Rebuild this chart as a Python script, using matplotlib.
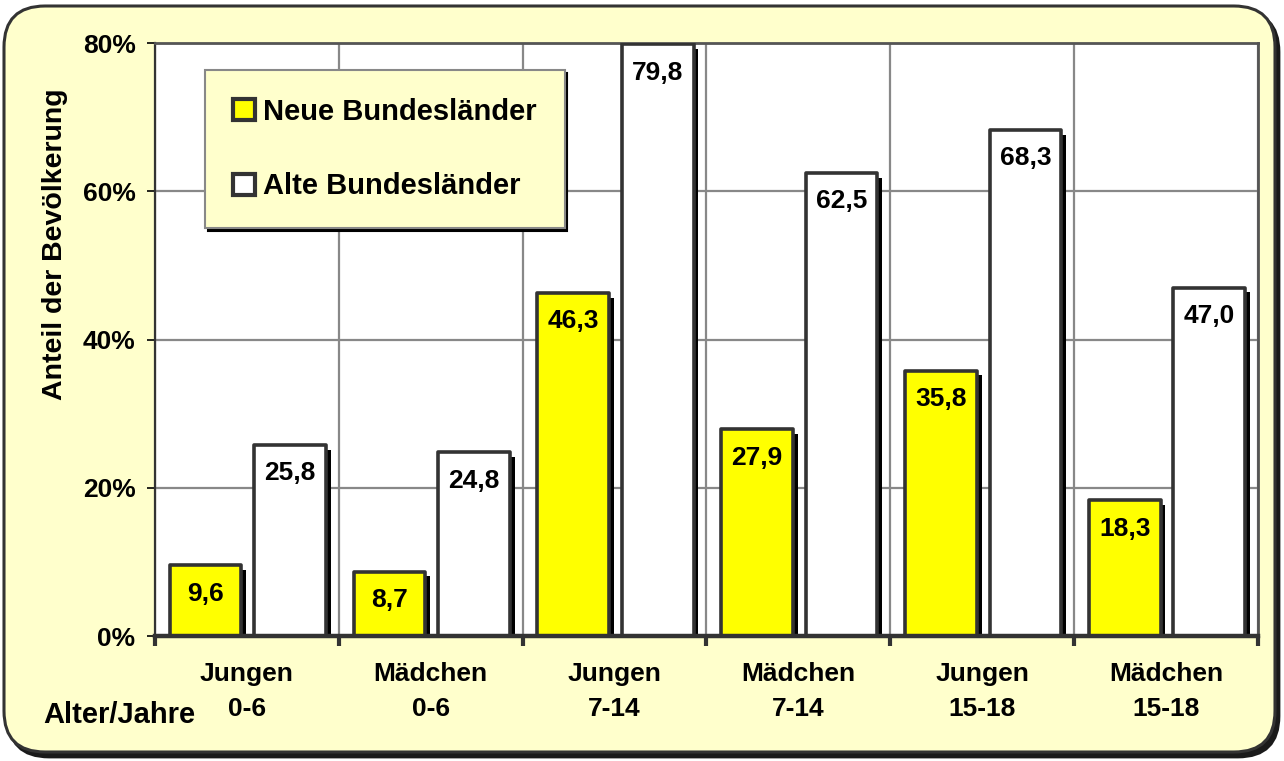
import matplotlib
matplotlib.use("Agg")
import matplotlib.pyplot as plt
import matplotlib.patheffects as pe
from matplotlib.patches import FancyBboxPatch, Patch
import numpy as np

# Daten
kategorien = ["Jungen\n0-6", "Mädchen\n0-6", "Jungen\n7-14",
              "Mädchen\n7-14", "Jungen\n15-18", "Mädchen\n15-18"]
neue_laender = [9.6, 8.7, 46.3, 27.9, 35.8, 18.3]
alte_laender = [25.8, 24.8, 79.8, 62.5, 68.3, 47.0]
y_ticks = [0, 20, 40, 60, 80]

plt.rcParams["font.family"] = ["Liberation Sans", "DejaVu Sans"]
plt.rcParams["font.weight"] = "bold"

W, H = 1284, 761
fig = plt.figure(figsize=(W / 100, H / 100), dpi=100)
fig.patch.set_facecolor("white")

# Rahmen mit Schatten
def px(x, y):
    return x / W, 1 - y / H

x0, y1 = px(4, 6)
x1, y0 = px(1275, 752)
shadow = FancyBboxPatch((x0 + 4 / W, y0 - 5 / H), x1 - x0, y1 - y0,
                        boxstyle="round,pad=0,rounding_size=0.032",
                        transform=fig.transFigure, facecolor="#1a1a1a",
                        edgecolor="#1a1a1a", lw=2, mutation_aspect=W / H,
                        zorder=-3)
frame = FancyBboxPatch((x0, y0), x1 - x0, y1 - y0,
                       boxstyle="round,pad=0,rounding_size=0.032",
                       transform=fig.transFigure, facecolor="#FFFFCC",
                       edgecolor="#333333", lw=2.2, mutation_aspect=W / H,
                       zorder=-2)
fig.patches.extend([shadow, frame])

ax = fig.add_axes([155 / W, 1 - 636 / H, 1103 / W, 593 / H])
ax.set_facecolor("white")

x = np.arange(len(kategorien))
breite = 0.39
schatten = [pe.SimplePatchShadow(offset=(3.5, -3.5), shadow_rgbFace="black", alpha=1.0),
            pe.Normal()]

b1 = ax.bar(x - 0.225, neue_laender, breite, color="#FFFF00", edgecolor="#333333",
            linewidth=2.6, zorder=3, label="Neue Bundesländer")
b2 = ax.bar(x + 0.235, alte_laender, breite, color="white", edgecolor="#333333",
            linewidth=2.6, zorder=3, label="Alte Bundesländer")
for bars in (b1, b2):
    for b in bars:
        b.set_path_effects(schatten)
        b.set_joinstyle("round")

for bars, werte in ((b1, neue_laender), (b2, alte_laender)):
    for b, v in zip(bars, werte):
        ax.annotate(f"{v:.1f}".replace(".", ","),
                    (b.get_x() + b.get_width() / 2, v),
                    xytext=(0, -12), textcoords="offset points",
                    ha="center", va="top", fontsize=19, fontweight="bold",
                    zorder=5)

ax.set_xlim(-0.5, len(kategorien) - 0.5)
ax.set_ylim(0, 80)
ax.set_yticks(y_ticks)
ax.set_yticklabels([f"{t}%" for t in y_ticks], fontsize=19, fontweight="bold")
ax.set_xticks(x)
ax.set_xticklabels(kategorien, fontsize=19, fontweight="bold", linespacing=1.55)
ax.set_xticks(np.arange(-0.5, len(kategorien)), minor=True)
ax.tick_params(axis="x", which="major", length=0, pad=19)
ax.tick_params(axis="x", which="minor", length=7, width=3, color="#333333",
               direction="out")
ax.tick_params(axis="y", length=6, width=1.2, direction="out", pad=8)

ax.grid(True, which="minor", axis="x", color="#888888", lw=1.6, zorder=0)
ax.grid(True, which="major", axis="y", color="#888888", lw=1.6, zorder=0)
ax.grid(False, which="major", axis="x")

ax.spines["left"].set_color("#333333")
ax.spines["left"].set_linewidth(1.6)
ax.spines["bottom"].set_color("#333333")
ax.spines["bottom"].set_linewidth(3.2)
ax.spines["bottom"].set_zorder(4)
for s in ("top", "right"):
    ax.spines[s].set_color("#555555")
    ax.spines[s].set_linewidth(2)

ax.set_ylabel("Anteil der Bevölkerung", fontsize=20.5, fontweight="bold")
ax.yaxis.set_label_coords(-0.079, 0.66)
fig.text(43 / W, 1 - 715 / H, "Alter/Jahre", fontsize=21, fontweight="bold",
         ha="left", va="center")

handles = [Patch(facecolor="#FFFF00", edgecolor="#333333", lw=3),
           Patch(facecolor="white", edgecolor="#333333", lw=3)]
leg = ax.legend(handles, ["Neue Bundesländer", "Alte Bundesländer"],
                loc="upper left", bbox_to_anchor=(50 / 1103, (636 - 70) / 593),
                prop={"size": 21, "weight": "bold"}, handlelength=0.75,
                handleheight=0.75, handletextpad=0.3, labelspacing=1.6,
                borderpad=0.95, borderaxespad=0, fancybox=False,
                shadow={"color": "black", "alpha": 1.0})
leg.get_frame().set_facecolor("#FFFFCC")
leg.get_frame().set_edgecolor("#888888")
leg.get_frame().set_linewidth(1.5)
leg.get_frame().set_alpha(1.0)
leg.set_zorder(10)

fig.savefig("out.png", dpi=100, facecolor=fig.get_facecolor())
